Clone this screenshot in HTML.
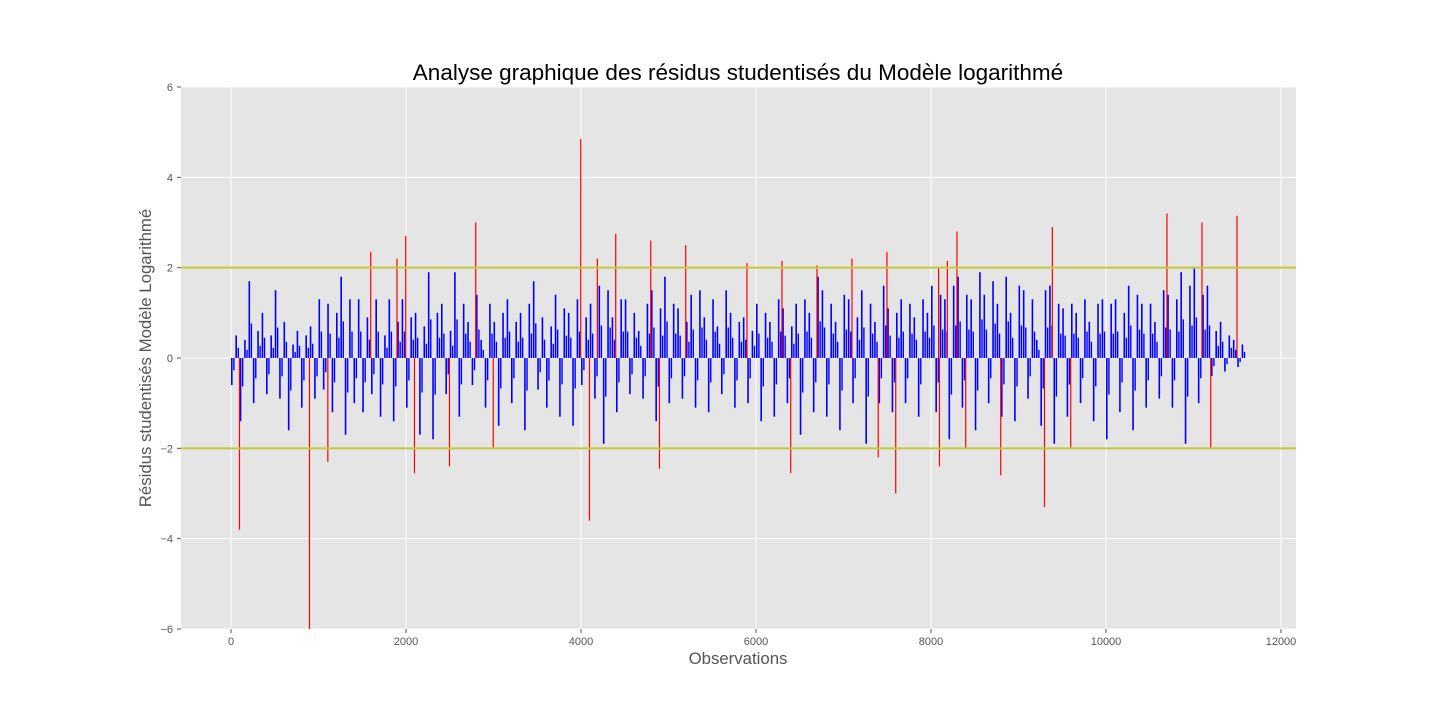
<!DOCTYPE html>
<html><head><meta charset="utf-8">
<style>
html,body{margin:0;padding:0;background:#fff;}
svg{display:block;font-family:"Liberation Sans","DejaVu Sans",sans-serif;}
</style></head>
<body>
<svg id="chart" width="1440" height="720" viewBox="0 0 1440 720">
  <rect x="181" y="87" width="1115" height="542" fill="#e5e5e5"/>
  <g id="grid"></g>
  <g id="bars"></g>
  <g id="axes"></g>
  <text x="738" y="80" text-anchor="middle" font-size="22.5" fill="#000">Analyse graphique des résidus studentisés du Modèle logarithmé</text>
  <text x="738" y="664" text-anchor="middle" font-size="16.8" fill="#555">Observations</text>
  <text transform="translate(151,358) rotate(-90)" text-anchor="middle" font-size="16.8" fill="#555">Résidus studentisés Modèle Logarithmé</text>
</svg>
<script>
const xTicks = [0,2000,4000,6000,8000,10000,12000];
const yTicks = [-6,-4,-2,0,2,4,6];
const thresholds = [2,-2];
const blueStep = 50;
const blueValues = [
-0.6,0.5,-1.4,0.4,1.7,-1.0,0.6,1.0,-0.8,0.5,1.5,-0.9,0.8,-1.6,0.3,0.6,-1.1,0.5,0.7,-0.9,
1.3,-0.7,1.2,-1.2,1.0,1.8,-1.7,1.3,-1.0,1.3,-1.2,0.9,-0.8,1.3,-1.3,0.5,1.3,-1.4,0.8,1.3,
-1.1,0.9,1.0,-1.7,0.7,1.9,-1.8,1.0,1.2,-0.8,0.6,1.9,-1.3,1.2,0.8,-0.6,1.4,0.4,-1.1,1.2,
0.8,-1.5,1.0,1.3,-1.0,0.8,1.0,-1.6,1.2,1.7,-0.7,0.9,-1.1,0.7,1.4,-1.3,1.1,1.0,-1.5,1.3,
-0.6,0.9,1.2,-0.9,1.6,-1.9,1.5,0.9,-1.2,1.3,1.3,-0.8,1.0,0.6,-0.9,1.2,1.5,-1.4,1.1,1.8,
-1.0,1.2,1.1,-0.9,0.8,1.4,-1.1,1.5,0.9,-1.2,1.3,0.7,-0.8,1.5,1.0,-1.1,0.8,0.9,-1.0,0.6,
1.2,-1.4,1.0,0.8,-1.3,1.3,1.1,-1.0,0.7,1.2,-1.7,1.3,1.0,-1.2,1.8,1.5,-1.3,1.2,0.8,-1.6,
1.4,1.3,-1.0,0.9,1.5,-1.9,1.2,0.8,-1.0,1.6,1.1,-1.2,1.0,1.3,-1.0,1.2,0.9,-1.3,1.3,1.0,
1.6,-1.2,1.4,1.3,-1.8,1.6,1.8,-1.1,1.4,1.3,-1.6,1.9,1.4,-1.0,1.7,1.2,-1.3,1.8,1.0,-1.4,
1.6,1.5,-0.9,1.3,0.4,-1.5,1.5,1.6,-1.9,1.2,1.1,-1.3,1.2,1.0,-1.0,1.3,0.8,-1.4,1.2,1.3,
-1.8,1.2,1.3,-1.2,1.0,1.6,-1.6,1.4,1.2,-1.1,1.2,0.8,-0.9,1.5,1.4,-1.1,1.3,1.9,-1.9,1.6,
2.0,-1.0,1.4,1.6,-0.4,0.6,0.8,-0.3,0.5,0.4,-0.2,0.3
];
const redObs = [90,890,1100,1590,1890,1990,2090,2490,2790,2990,3990,4090,4180,4390,4790,4890,5190,5890,6290,6390,6690,7090,7390,7490,7590,8080,8090,8180,8290,8390,8790,9290,9380,9590,10690,11090,11190,11490];
const redValues = [-3.8,-6.5,-2.3,2.35,2.2,2.7,-2.55,-2.4,3.0,-2.0,4.85,-3.6,2.2,2.75,2.6,-2.45,2.5,2.1,2.15,-2.55,2.05,2.2,-2.2,2.35,-3.0,2.0,-2.4,2.15,2.8,-2.0,-2.6,-3.3,2.9,-2.0,3.2,3.0,-2.0,3.15];

const L=181,R=1296,T=87,B=629;
const xs = v => 231 + v*(1281-231)/12000;
const ys = v => 358 - v*45.1667;
const cy = v => Math.max(T, Math.min(B, ys(v)));
const NS='http://www.w3.org/2000/svg';
function mk(tag, attrs, parent){const e=document.createElementNS(NS,tag);for(const k in attrs)e.setAttribute(k,attrs[k]);parent.appendChild(e);return e;}
const grid=document.getElementById('grid'), bars=document.getElementById('bars'), axes=document.getElementById('axes');

xTicks.forEach(t=>{
  const g=mk('line',{x1:xs(t),x2:xs(t),y1:T,y2:B,stroke:'#fff','stroke-width':1},grid);
  
  
  const tk=mk('line',{x1:xs(t),x2:xs(t),y1:B,y2:B+4,stroke:'#555'},axes);
  
  
  const tx=mk('text',{x:xs(t),y:B+16,'text-anchor':'middle','font-size':11,fill:'#555'},axes);
  tx.textContent=t;
  
  
});
yTicks.forEach(t=>{
  const g=mk('line',{x1:L,x2:R,y1:ys(t),y2:ys(t),stroke:'#fff','stroke-width':1},grid);
  
  
  const tk=mk('line',{x1:L-4,x2:L,y1:ys(t),y2:ys(t),stroke:'#555'},axes);
  
  
  const tx=mk('text',{x:L-8,y:ys(t)+4,'text-anchor':'end','font-size':11,fill:'#555'},axes);
  tx.textContent=(t<0?'\u2212'+(-t):t);
  
  
});
blueValues.forEach((v,i)=>{
  const x=xs(i*blueStep);
  const y0=ys(0), y1=cy(v);
  const r=mk('rect',{x:x,y:Math.min(y0,y1),width:1.6,height:Math.abs(y1-y0),fill:'#0000ff'},bars);
  
  
  const y2=cy(v*0.45);
  const r2=mk('rect',{x:x+2.2,y:Math.min(y0,y2),width:1.4,height:Math.abs(y2-y0),fill:'#0000ff'},bars);
  
  
});
redObs.forEach((o,i)=>{
  const x=xs(o), y0=ys(0), y1=cy(redValues[i]);
  const r=mk('rect',{x:x,y:Math.min(y0,y1),width:1.2,height:Math.abs(y1-y0),fill:'#ff0000'},bars);
  
  
});
thresholds.forEach(t=>{
  const l=mk('line',{x1:L,x2:R,y1:ys(t),y2:ys(t),stroke:'#c8c83a','stroke-width':2},bars);
  
  
});
</script>
</body></html>
